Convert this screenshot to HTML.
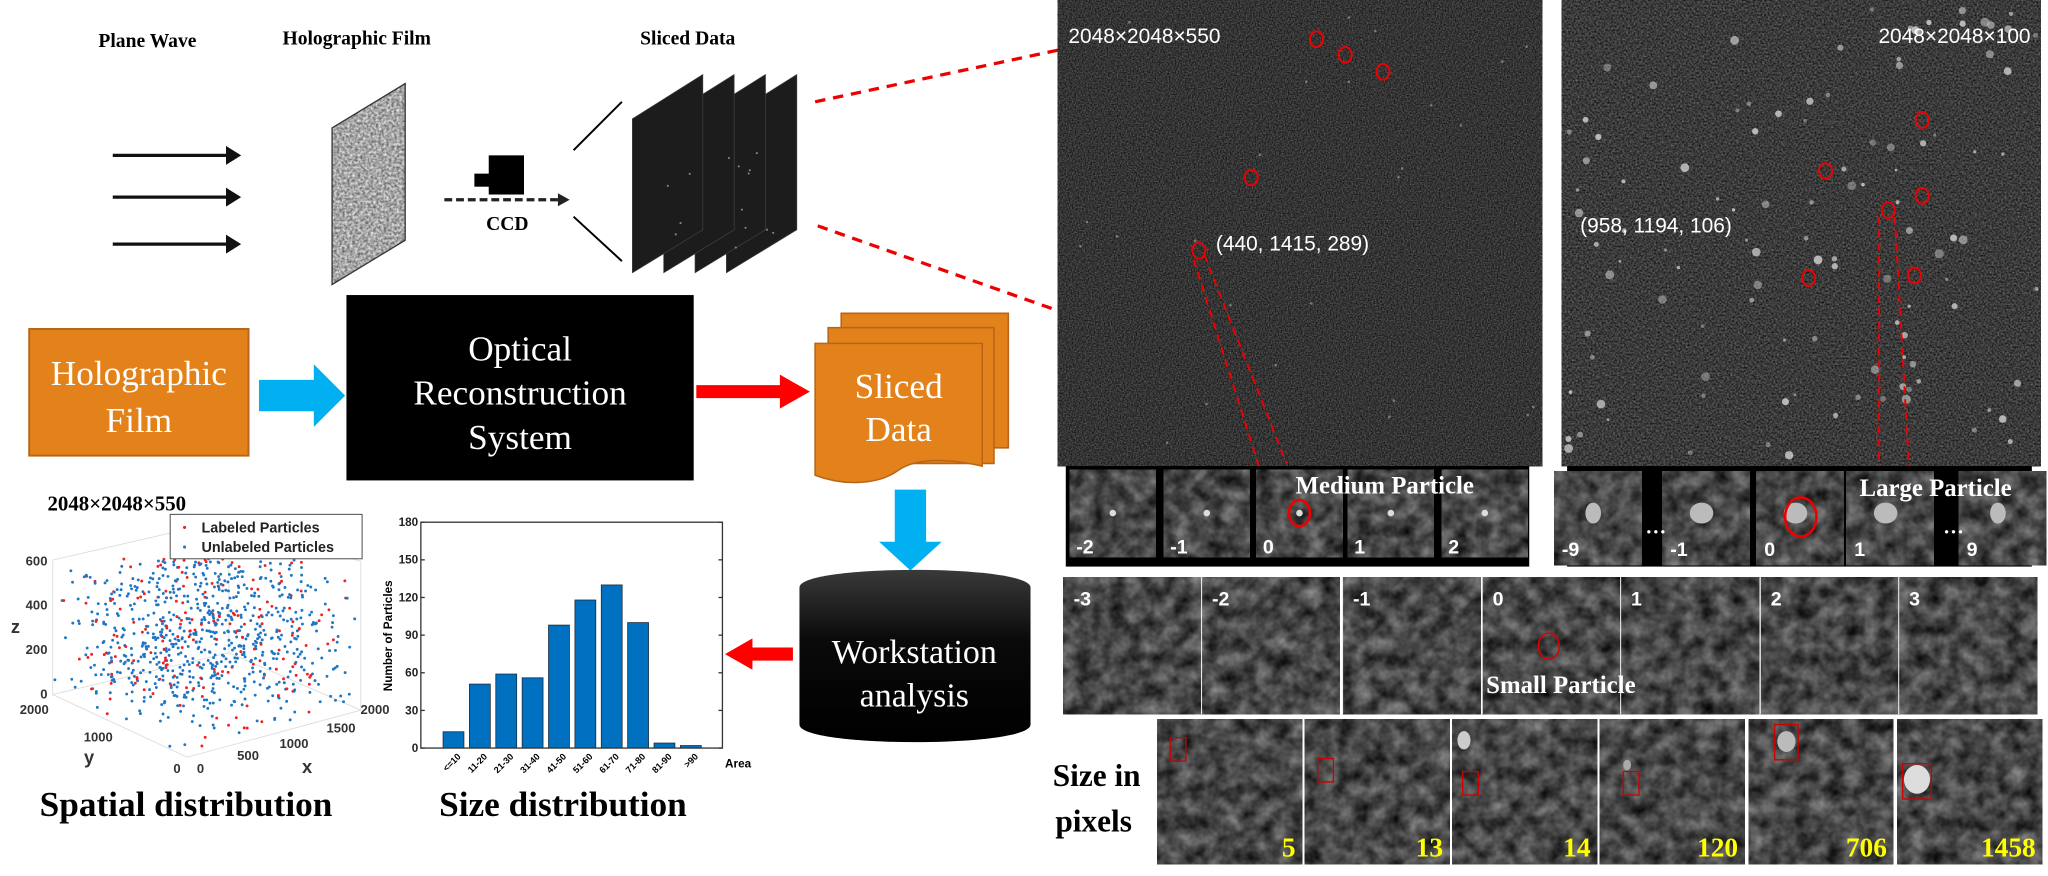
<!DOCTYPE html>
<html><head><meta charset="utf-8"><style>
html,body{margin:0;padding:0;background:#fff;width:2048px;height:876px;overflow:hidden}
svg{display:block}
.t{font-family:"Liberation Serif",serif}
.s{font-family:"Liberation Sans",sans-serif}
</style></head><body>
<svg id="sv" width="2048" height="876" viewBox="0 0 1568 671" xmlns="http://www.w3.org/2000/svg">
<defs>
<filter id="n1" x="0" y="0" width="100%" height="100%" color-interpolation-filters="sRGB"><feTurbulence type="fractalNoise" baseFrequency="0.9" numOctaves="2" seed="3"/><feColorMatrix values="0.45 0 0 0 -0.02  0.45 0 0 0 -0.02  0.45 0 0 0 -0.02  0 0 0 0 1"/></filter>
<filter id="n2" x="0" y="0" width="100%" height="100%" color-interpolation-filters="sRGB"><feTurbulence type="fractalNoise" baseFrequency="0.7" numOctaves="2" seed="7"/><feColorMatrix values="0.5 0 0 0 -0.02  0.5 0 0 0 -0.02  0.5 0 0 0 -0.02  0 0 0 0 1"/></filter>
<filter id="n3" x="0" y="0" width="100%" height="100%" color-interpolation-filters="sRGB"><feTurbulence type="fractalNoise" baseFrequency="0.08" numOctaves="3" seed="11"/><feColorMatrix values="0.6 0 0 0 -0.02  0.6 0 0 0 -0.02  0.6 0 0 0 -0.02  0 0 0 0 1"/></filter>
<filter id="nf" x="0" y="0" width="100%" height="100%" color-interpolation-filters="sRGB"><feTurbulence type="fractalNoise" baseFrequency="0.5" numOctaves="2" seed="5"/><feColorMatrix values="0.8 0 0 0 0.25  0.8 0 0 0 0.25  0.8 0 0 0 0.25  0 0 0 0 1"/></filter>
<linearGradient id="cyl" x1="0" y1="0" x2="0" y2="1"><stop offset="0" stop-color="#3a3a3a"/><stop offset="0.4" stop-color="#0a0a0a"/><stop offset="1" stop-color="#000"/></linearGradient>
</defs>

<g class="t" font-weight="bold" font-size="15">
<text x="75" y="36">Plane Wave</text>
<text x="216" y="34">Holographic Film</text>
<text x="490" y="34">Sliced Data</text>
</g>
<g stroke="#111" stroke-width="2.5" fill="#111">
<line x1="86" y1="119" x2="176" y2="119"/><path d="M174,114 L182,119 L174,124Z"/>
<line x1="86" y1="151" x2="176" y2="151"/><path d="M174,146 L182,151 L174,156Z"/>
<line x1="86" y1="187" x2="176" y2="187"/><path d="M174,182 L182,187 L174,192Z"/>
</g>
<clipPath id="fc"><path d="M254,98 L310,64 L310,184 L254,218Z"/></clipPath>
<rect x="254" y="64" width="56" height="154" filter="url(#nf)" clip-path="url(#fc)"/>
<path d="M254,98 L310,64 L310,184 L254,218Z" fill="none" stroke="#333" stroke-width="1"/>
<rect x="374" y="119" width="27" height="30" fill="#000"/>
<rect x="363" y="133" width="12" height="10" fill="#000"/>
<line x1="340" y1="153" x2="428" y2="153" stroke="#222" stroke-width="2.5" stroke-dasharray="6,3"/>
<path d="M427,148 L436,153 L427,158Z" fill="#222"/>
<text class="t" x="372" y="176" font-size="15" font-weight="bold">CCD</text>
<line x1="439" y1="115" x2="476" y2="78" stroke="#000" stroke-width="1.5"/>
<line x1="439" y1="166" x2="476" y2="200" stroke="#000" stroke-width="1.5"/>
<g id="slices"></g>
<line x1="624" y1="78" x2="812" y2="38" stroke="#e00" stroke-width="2.5" stroke-dasharray="8,6"/>
<line x1="626" y1="173" x2="810" y2="238" stroke="#e00" stroke-width="2.5" stroke-dasharray="8,6"/>

<rect x="22" y="252" width="168" height="97" fill="#e3821a" stroke="#b8651a" stroke-width="1.5"/>
<text class="t" x="106" y="295" font-size="27" fill="#fff" text-anchor="middle">Holographic</text>
<text class="t" x="106" y="331" font-size="27" fill="#fff" text-anchor="middle">Film</text>
<path d="M198,291 L240,291 L240,279 L264,303 L240,327 L240,315 L198,315Z" fill="#00b0f0"/>
<rect x="265" y="226" width="266" height="142" fill="#000"/>
<g class="t" font-size="27" fill="#fff" text-anchor="middle">
<text x="398" y="276">Optical</text><text x="398" y="310">Reconstruction</text><text x="398" y="344">System</text>
</g>
<path d="M533,295 L597,295 L597,287 L620,300 L597,313 L597,305 L533,305Z" fill="#f00"/>
<g fill="#e3821a" stroke="#b8651a" stroke-width="1.2">
<path d="M644,240 L772,240 L772,343 L644,343Z"/>
<path d="M634,251 L761,251 L761,355 L634,355Z"/>
<path d="M624,263 L752,263 L752,357 C720,350 700,352 688,360 C672,372 645,372 624,364Z"/>
</g>
<g class="t" font-size="27" fill="#fff" text-anchor="middle"><text x="688" y="305">Sliced</text><text x="688" y="338">Data</text></g>
<path d="M685,375 L709,375 L709,415 L721,415 L697,437 L673,415 L685,415Z" fill="#00b0f0"/>
<path d="M612,450 C612,432 789,432 789,450 L789,555 C789,573 612,573 612,555Z" fill="url(#cyl)"/>
<g class="t" font-size="26" fill="#fff" text-anchor="middle"><text x="700" y="508">Workstation</text><text x="700" y="541">analysis</text></g>
<path d="M607,496 L576,496 L576,489 L555,501 L576,513 L576,506 L607,506Z" fill="#f00"/>

<text class="t" x="36" y="391" font-size="16" font-weight="bold">2048×2048×550</text>
<g stroke="#ddd" stroke-width="0.7" fill="none">
<path d="M40,429 L40,532 L143,580 L276,544"/>
<path d="M40,429 L175,398 L276,430 L276,544"/>
<path d="M175,398 L175,500 L40,532 M175,500 L276,544"/>
</g>
<g id="dots"></g>
<rect x="130" y="394" width="147" height="34" fill="#fff" stroke="#555" stroke-width="0.8"/>
<circle cx="141" cy="404" r="1.2" fill="#e22"/><circle cx="141" cy="419" r="1.2" fill="#1f77c4"/>
<g class="s" font-size="11" font-weight="bold" fill="#222"><text x="154" y="408">Labeled Particles</text><text x="154" y="423">Unlabeled Particles</text></g>
<g class="s" font-size="10" font-weight="bold" fill="#333" text-anchor="end">
<text x="36" y="433">600</text><text x="36" y="467">400</text><text x="36" y="501">200</text><text x="36" y="535">0</text>
<text x="37" y="547">2000</text><text x="86" y="568">1000</text><text x="138" y="592">0</text>
<text x="156" y="592">0</text><text x="198" y="582">500</text><text x="236" y="573">1000</text><text x="272" y="561">1500</text><text x="298" y="547">2000</text>
</g>
<g class="s" font-size="14" font-weight="bold" fill="#333"><text x="8" y="485">z</text><text x="64" y="585">y</text><text x="231" y="592">x</text></g>

<g id="bars"></g>
<rect x="322" y="400" width="231" height="173" fill="none" stroke="#333" stroke-width="1"/>
<g class="s" font-size="9" font-weight="bold" fill="#222" text-anchor="end" id="ylab"></g>
<text class="s" font-size="9" font-weight="bold" transform="translate(300,487) rotate(-90)" text-anchor="middle">Number of Particles</text>
<text class="s" x="555" y="588" font-size="9" font-weight="bold">Area</text>
<g class="s" font-size="7" font-weight="bold" id="xlab"></g>
<g class="t" font-size="27" font-weight="bold"><text x="30" y="625">Spatial distribution</text><text x="336" y="625">Size distribution</text></g>

<rect x="810" y="0" width="371" height="357" filter="url(#n1)"/>
<rect x="1196" y="0" width="367" height="357" filter="url(#n2)"/>
<g id="bright"></g>
<g class="s" font-size="16" fill="#fff"><text x="818" y="33">2048×2048×550</text><text x="1555" y="33" text-anchor="end">2048×2048×100</text>
<text x="931" y="192">(440, 1415, 289)</text><text x="1210" y="178">(958, 1194, 106)</text></g>
<g fill="none" stroke="#e00" stroke-width="1.5">
<ellipse cx="1008" cy="30" rx="5" ry="6"/><ellipse cx="1030" cy="42" rx="5" ry="6"/><ellipse cx="1059" cy="55" rx="5" ry="6"/>
<ellipse cx="958" cy="136" rx="5" ry="6"/><ellipse cx="918" cy="192" rx="5" ry="6"/>
<ellipse cx="1472" cy="92" rx="5" ry="6"/><ellipse cx="1398" cy="131" rx="5" ry="6"/><ellipse cx="1472" cy="150" rx="5" ry="6"/>
<ellipse cx="1446" cy="161" rx="5" ry="6"/><ellipse cx="1385" cy="213" rx="5" ry="6"/><ellipse cx="1466" cy="211" rx="5" ry="6"/>
</g>
<g stroke="#e00" stroke-width="1.5" stroke-dasharray="6,4">
<line x1="914" y1="199" x2="968" y2="370"/><line x1="922" y1="195" x2="985" y2="355"/>
<line x1="1439" y1="166" x2="1439" y2="360"/><line x1="1451" y1="166" x2="1462" y2="360"/>
</g>

<rect x="816" y="357" width="355" height="77" fill="#000"/>
<g id="med"></g>
<rect x="1200" y="357" width="356" height="77" fill="#000"/>
<g id="lar"></g>
<g class="t" font-size="19" font-weight="bold" fill="#fff"><text x="992" y="378">Medium Particle</text><text x="1424" y="380">Large Particle</text></g>
<g fill="#fff" font-size="16" class="t" font-weight="bold"><text x="1260" y="413">···</text><text x="1488" y="413">···</text></g>
<g id="sm"></g>
<ellipse cx="1186" cy="495" rx="8" ry="10" fill="none" stroke="#d00" stroke-width="1.2"/>
<text class="t" x="1138" y="531" font-size="19" font-weight="bold" fill="#fff">Small Particle</text>
<g id="sz"></g>
<g class="t" font-size="24" font-weight="bold"><text x="806" y="602">Size in</text><text x="808" y="637">pixels</text></g>
</svg>
<script>
var NS="http://www.w3.org/2000/svg";
function el(p,t,a){var e=document.createElementNS(NS,t);for(var k in a)e.setAttribute(k,a[k]);document.getElementById(p).appendChild(e);return e;}
var seed=12345;function r(){seed=(seed*1103515245+12345)%2147483648;return seed/2147483648;}
for(var i=3;i>=0;i--){var x=484+24*i;var d="M"+x+",91 L"+(x+54)+",57 L"+(x+54)+",176 L"+x+",209Z";
el("slices","path",{d:d,fill:"#1c1c1c",stroke:"#444","stroke-width":"0.5"});}
for(var i=0;i<14;i++){el("slices","circle",{cx:500+r()*100,cy:100+r()*90,r:0.8,fill:"#888"});}
for(var i=0;i<900;i++){var a=r(),b=r(),c=r();
 var x=40+103*a+133*b; var y=532+48*a-36*b-103*c+(r()-0.5)*10;
 if(y<428)y=428+r()*30;
 el("dots","circle",{cx:x.toFixed(1),cy:y.toFixed(1),r:1.1,fill:(r()<0.18?"#e22":"#1f77c4")});}
var v=[13,51,59,56,98,118,130,100,4,2];var lab=["<=10","11-20","21-30","31-40","41-50","51-60","61-70","71-80","81-90",">90"];
for(var i=0;i<10;i++){var h=v[i]/180*173;var x=339+20.2*i;
 el("bars","rect",{x:x,y:573-h,width:16,height:h,fill:"#0070c0",stroke:"#1a2a3a","stroke-width":"0.6"});
 var t=el("xlab","text",{transform:"translate("+(x+14)+",580) rotate(-45)","text-anchor":"end"});t.textContent=lab[i];}
for(var k=0;k<=6;k++){var t=el("ylab","text",{x:320,y:576-k*173/6});t.textContent=k*30;
 el("bars","line",{x1:322,x2:325,y1:573-k*173/6,y2:573-k*173/6,stroke:"#333"});el("bars","line",{x1:550,x2:553,y1:573-k*173/6,y2:573-k*173/6,stroke:"#333"});}
for(var i=0;i<110;i++){el("bright","circle",{cx:1200+r()*360,cy:5+r()*348,r:(1+r()*2.5).toFixed(1),fill:"#ccc",opacity:(0.4+r()*0.5).toFixed(2)});}
for(var i=0;i<25;i++){el("bright","circle",{cx:815+r()*360,cy:5+r()*348,r:1,fill:"#aaa",opacity:0.6});}
function frame(g,x,y,w,h,f){el(g,"rect",{x:x,y:y,width:w,height:h,filter:"url(#"+f+")"});}
var mx=[819,891,962,1032,1104],ml=["-2","-1","0","1","2"];
for(var i=0;i<5;i++){frame("med",mx[i],360,66,67,"n3");el("med","circle",{cx:mx[i]+33,cy:393,r:2.5,fill:"#ddd"});
 var t=el("med","text",{x:mx[i]+5,y:424,fill:"#fff","font-size":"15","font-family":"Liberation Sans","font-weight":"bold"});t.textContent=ml[i];}
el("med","ellipse",{cx:995,cy:393,rx:8,ry:10,fill:"none",stroke:"#e00","stroke-width":"2"});
var lx=[1190,1273,1345,1414,1500],ll=["-9","-1","0","1","9"];
for(var i=0;i<5;i++){frame("lar",lx[i],361,67,72,"n3");el("lar","ellipse",{cx:lx[i]+30,cy:393,rx:(i==0||i==4)?6:9,ry:8,fill:"#bbb"});
 var t=el("lar","text",{x:lx[i]+6,y:426,fill:"#fff","font-size":"15","font-family":"Liberation Sans","font-weight":"bold"});t.textContent=ll[i];}
el("lar","ellipse",{cx:1379,cy:396,rx:12,ry:15,fill:"none",stroke:"#e00","stroke-width":"2"});
var sx=[814,920,1028,1135,1241,1348,1454],sl=["-3","-2","-1","0","1","2","3"];
for(var i=0;i<7;i++){frame("sm",sx[i],442,106,105,"n3");}
for(var i=0;i<7;i++){if(i>0)el("sm","line",{x1:sx[i],x2:sx[i],y1:442,y2:547,stroke:"#eee","stroke-width":"0.8"});
 var t=el("sm","text",{x:sx[i]+8,y:464,fill:"#fff","font-size":"15","font-family":"Liberation Sans","font-weight":"bold"});t.textContent=sl[i];}
var zx=[886,999,1112,1225,1339,1453],zl=["5","13","14","120","706","1458"];
var bx=[[10,14,12,18],[10,30,12,18],[8,40,12,18],[18,40,12,18],[20,4,18,27],[4,34,22,27]];
for(var i=0;i<6;i++){frame("sz",zx[i],551,111,111,"n3");
 if(i==4)el("sz","ellipse",{cx:zx[i]+29,cy:568,rx:7,ry:8,fill:"#bbb"});
 if(i==5)el("sz","ellipse",{cx:zx[i]+15,cy:597,rx:10,ry:11,fill:"#ddd"});
 if(i==2)el("sz","ellipse",{cx:zx[i]+9,cy:567,rx:5,ry:7,fill:"#ccc"});
 if(i==3)el("sz","ellipse",{cx:zx[i]+21,cy:586,rx:3,ry:4,fill:"#aaa"});
 el("sz","rect",{x:zx[i]+bx[i][0],y:551+bx[i][1],width:bx[i][2],height:bx[i][3],fill:"none",stroke:"#c00","stroke-width":"1"});
 var t=el("sz","text",{x:zx[i]+106,y:656,fill:"#ff0","font-size":"21","font-family":"Liberation Serif","font-weight":"bold","text-anchor":"end"});t.textContent=zl[i];}
</script>
</body></html>
